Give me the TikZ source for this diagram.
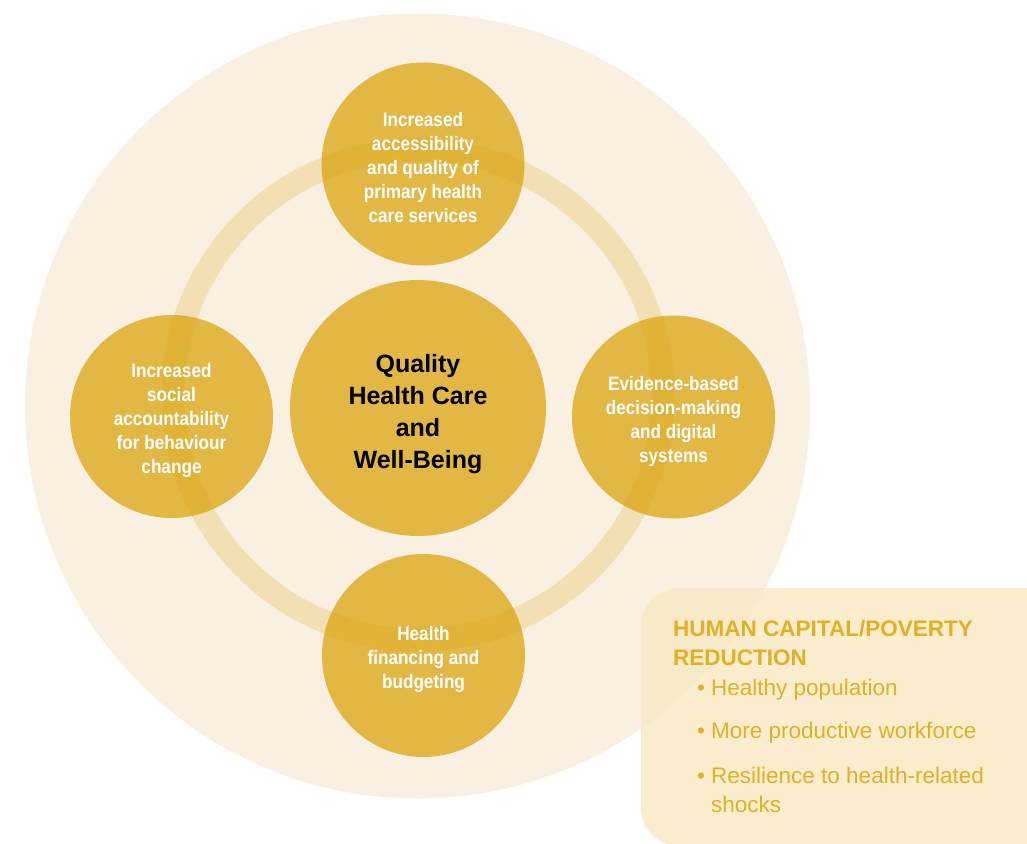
\documentclass[tikz,border=0pt]{standalone}
\usepackage{fontspec}
\setmainfont{Liberation Sans}
\newfontfamily\narrowfont[FakeStretch=0.88]{Liberation Sans}
\definecolor{discbg}{RGB}{250,240,225}
\definecolor{ringbg}{RGB}{243,223,180}
\definecolor{petalfill}{RGB}{216,160,0}
\definecolor{boxfill}{RGB}{247,233,194}
\definecolor{boxtext}{RGB}{226,176,36}
\begin{document}
\begin{tikzpicture}[x=1pt,y=-1pt,
	petal/.style={circle,fill=petalfill,fill opacity=0.7,minimum size=203pt,inner sep=0pt},
	petaltext/.style={inner sep=0pt,align=center,text=white,font=\narrowfont\bfseries\fontsize{19.5}{24}\selectfont},
	core/.style={petal,minimum size=256pt},
	coretext/.style={inner sep=0pt,align=center,text=black,font=\bfseries\fontsize{25}{32}\selectfont},
	boxline/.style={anchor=north west,inner sep=0pt,align=left,text=boxtext,font=\fontsize{22.5}{29}\selectfont}]
				\useasboundingbox (0,0) rectangle (1027,843);
				\clip (0,0) rectangle (1027,843);
				
				% draw the outer disc and the ring
				\fill[discbg] (417.5,406) circle[radius=392.5];
				\draw[ringbg,line width=23pt] (418,395) circle[radius=245];
				
				% draw nodes for the four areas and the centre
				\node[petal,label={[petaltext,yshift=-4pt]center:{Increased\\accessibility\\and quality of\\primary health\\care services}}] (access) at (423,164) {};
				\node[petal,label={[petaltext,yshift=-4pt]center:{Increased\\social\\accountability\\for behaviour\\change}}] (account) at (171.5,416.5) {};
				\node[petal,label={[petaltext,yshift=-4pt]center:{Evidence-based\\decision-making\\and digital\\systems}}] (evidence) at (673.5,417) {};
				\node[petal,label={[petaltext,yshift=-4pt]center:{Health\\financing and\\budgeting}}] (finance) at (423.5,655.5) {};
				\node[core,label={[coretext,yshift=-6pt]center:{Quality\\Health Care\\and\\Well-Being}}] (quality) at (418,408) {};
				
				% draw the outcome box
				\fill[boxfill,fill opacity=0.8,rounded corners=38pt] (641,588) rectangle (1080,846);
				\node[boxline,font=\bfseries\fontsize{22.5}{29}\selectfont] (outcome) at (673,620) {HUMAN CAPITAL/POVERTY\\REDUCTION};
				\node[boxline] (healthy) at (711,679) {\llap{\textbullet\ }Healthy population};
				\node[boxline] (workforce) at (711,722) {\llap{\textbullet\ }More productive workforce};
				\node[boxline] (resilience) at (711,767) {\llap{\textbullet\ }Resilience to health-related\\shocks};
			\end{tikzpicture}
\end{document}
